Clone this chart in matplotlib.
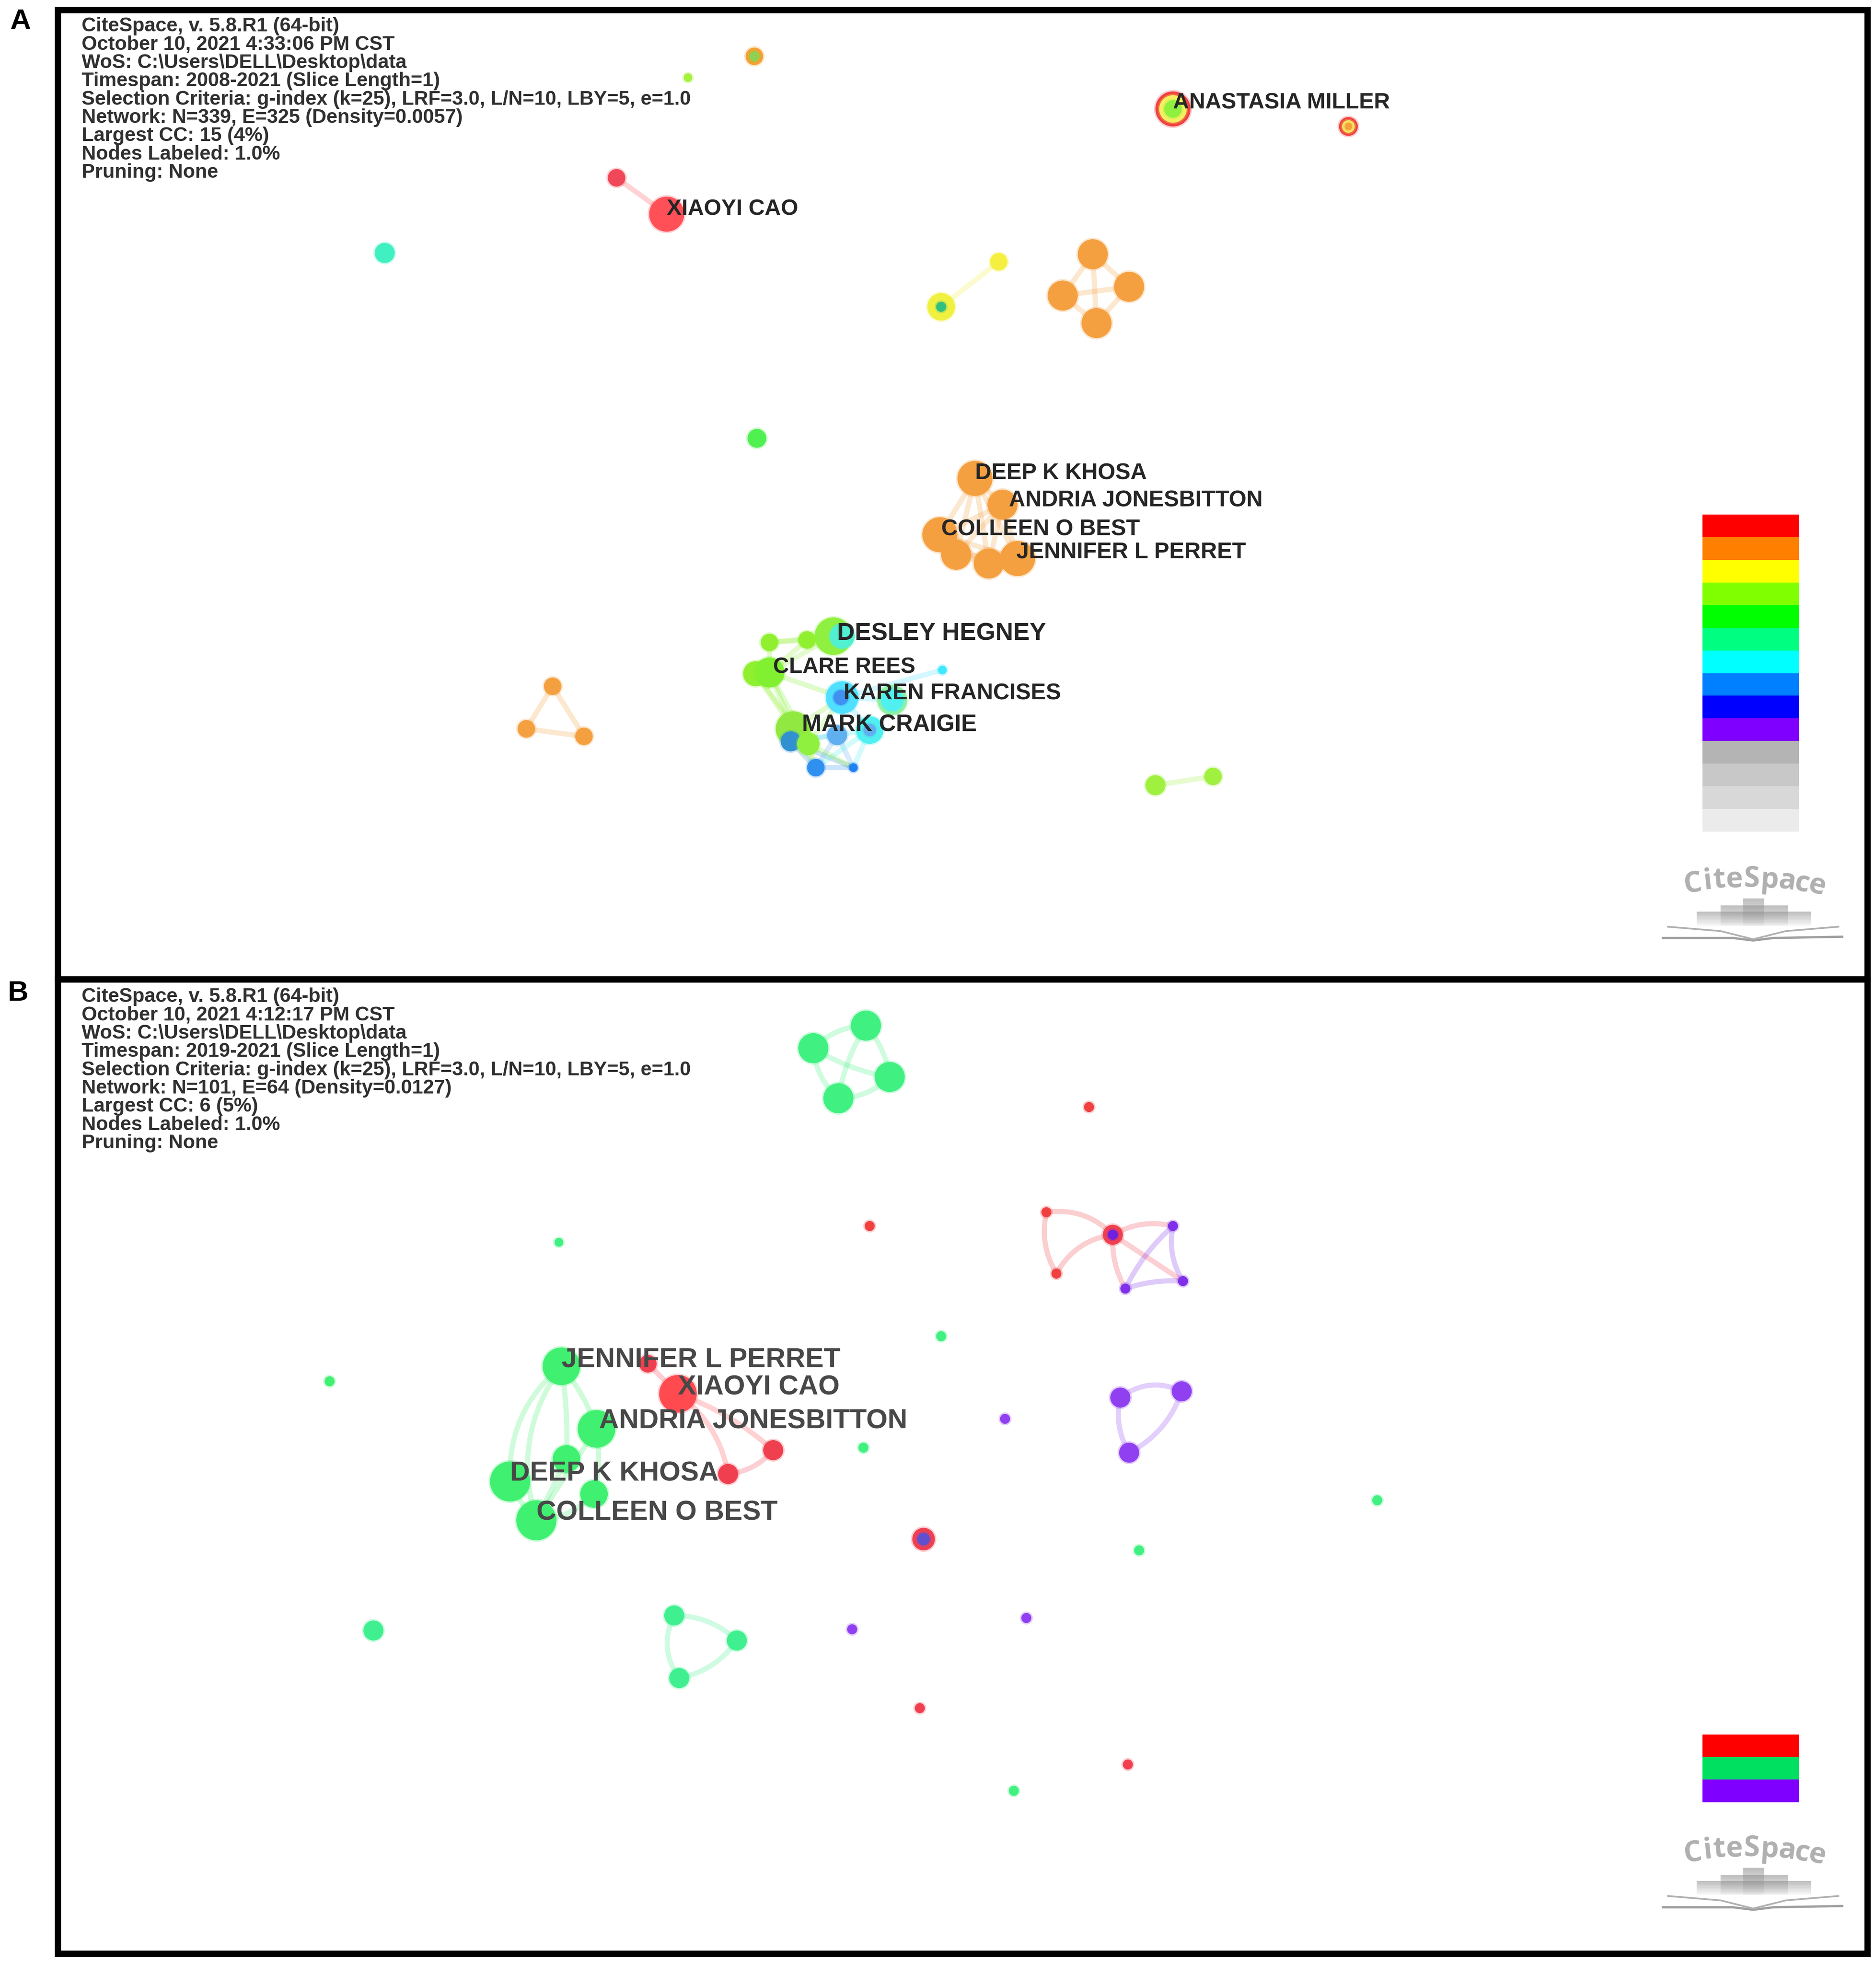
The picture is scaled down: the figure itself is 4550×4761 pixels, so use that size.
import matplotlib
matplotlib.use('Agg')
import matplotlib.pyplot as plt
from matplotlib.patches import Circle, Rectangle, FancyArrowPatch

plt.rcParams['font.family'] = ['Liberation Sans', 'DejaVu Sans']

# ---- header text of the two panels
info_a = ['CiteSpace, v. 5.8.R1 (64-bit)', 'October 10, 2021 4:33:06 PM CST',
          'WoS: C:\\Users\\DELL\\Desktop\\data', 'Timespan: 2008-2021 (Slice Length=1)',
          'Selection Criteria: g-index (k=25), LRF=3.0, L/N=10, LBY=5, e=1.0',
          'Network: N=339, E=325 (Density=0.0057)', 'Largest CC: 15 (4%)',
          'Nodes Labeled: 1.0%', 'Pruning: None']
info_b = ['CiteSpace, v. 5.8.R1 (64-bit)', 'October 10, 2021 4:12:17 PM CST',
          'WoS: C:\\Users\\DELL\\Desktop\\data', 'Timespan: 2019-2021 (Slice Length=1)',
          'Selection Criteria: g-index (k=25), LRF=3.0, L/N=10, LBY=5, e=1.0',
          'Network: N=101, E=64 (Density=0.0127)', 'Largest CC: 6 (5%)',
          'Nodes Labeled: 1.0%', 'Pruning: None']

# ---- panel A network
a_x = [602, 602, 549, 936, 936, 936, 1076, 1076, 1076, 532, 492, 307, 751, 751, 797,
       872, 848, 901, 875, 604, 778, 800, 750, 763, 789, 812,
       665, 672, 614, 644, 603, 614, 752, 672, 671, 712, 712,
       633, 631, 645, 668, 694, 694, 651, 681, 441, 420, 466, 922, 968]
a_y = [45, 45, 62, 87, 87, 87, 101, 101, 101, 171, 142, 202, 245, 245, 209,
       203, 236, 229, 258, 350, 382, 403, 427, 443, 450, 446,
       508, 508, 513, 511, 538, 537, 535, 557, 557, 559, 559,
       582, 592, 594, 587, 583, 583, 613, 613, 548, 582, 588, 627, 620]
a_r = [7, 4, 3.5, 14, 11, 7, 7.5, 5, 3, 14, 7, 8, 11, 4, 7,
       12, 12, 12, 12, 7.5, 14, 12, 14, 12, 12, 14,
       15, 10, 7, 7, 10, 12, 3.5, 13, 6, 12, 9,
       14, 8, 9, 8, 11, 5, 7, 3.5, 7, 7, 7, 8, 7]
a_c = ['#f5a030', '#90d050', '#a8f040', '#f04040', '#f5f060', '#90f040', '#f04040', '#f5f060', '#f5a040',
       '#ff5058', '#f04858', '#40f0c0', '#f0f040', '#30c080', '#f5f040',
       '#f5a040', '#f5a040', '#f5a040', '#f5a040', '#50f050',
       '#f5a040', '#f5a040', '#f5a040', '#f5a040', '#f5a040', '#f5a040',
       '#90f040', '#50f0d0', '#90f030', '#90f030', '#90f030', '#80f030', '#40e8ff',
       '#50e0ff', '#4090f0', '#90f0a0', '#50f0f0',
       '#90e840', '#3090d0', '#90f040', '#60b0f0', '#50f0f0', '#60b0f0', '#3090f0', '#2080f0',
       '#f5a040', '#f5a040', '#f5a040', '#a0f040', '#a0f040']
a_edges = [(9, 10), (12, 14), (15, 16), (15, 17), (15, 18), (16, 17), (16, 18), (17, 18),
           (20, 21), (20, 22), (20, 23), (20, 24), (20, 25), (21, 22), (21, 23), (21, 24), (21, 25),
           (22, 23), (22, 24), (22, 25), (23, 24), (23, 25), (24, 25),
           (28, 26), (29, 26), (28, 29), (28, 31), (29, 31), (26, 31), (31, 37), (30, 37), (31, 39),
           (31, 33), (37, 33), (39, 33), (30, 39),
           (33, 32), (33, 35), (33, 41), (38, 43), (38, 44), (40, 43), (40, 44), (41, 43), (41, 44),
           (43, 44), (39, 43), (39, 44), (37, 43), (40, 38), (41, 38),
           (45, 46), (45, 47), (46, 47), (48, 49)]
a_names = ['ANASTASIA MILLER', 'XIAOYI CAO', 'DEEP K KHOSA', 'ANDRIA JONESBITTON', 'COLLEEN O BEST',
           'JENNIFER L PERRET', 'DESLEY HEGNEY', 'CLARE REES', 'KAREN FRANCISES', 'MARK CRAIGIE']
a_name_x = [936, 532, 778, 805, 751, 811, 668, 617, 673, 640]
a_name_y = [82, 167, 378, 400, 423, 441, 506, 533, 554, 579]
a_name_size = [39, 39, 39.5, 39.5, 39.5, 39.5, 43, 38.5, 39.5, 41]

# ---- panel B network
b_x = [649, 691, 710, 669, 869, 694, 446, 835, 843, 888, 888, 936, 944, 898, 751, 263,
       448, 476, 452, 407, 474, 428, 517, 541, 617, 581, 894, 943, 901, 802, 689, 1099, 909,
       737, 737, 298, 538, 588, 542, 680, 819, 734, 900, 809]
b_y = [837, 819, 860, 877, 884, 979, 992, 968, 1017, 986, 986, 979, 1023, 1029, 1067, 1103,
       1091, 1141, 1165, 1183, 1193, 1214, 1089, 1113, 1158, 1177, 1116, 1111, 1160, 1133, 1156, 1198, 1238,
       1229, 1229, 1302, 1290, 1310, 1340, 1301, 1292, 1364, 1409, 1430]
b_r = [12, 12, 12, 12, 4, 4, 3.5, 4, 4, 8, 4, 4, 4, 4, 4, 4,
       15, 15, 11, 16, 11, 16, 7, 15, 8, 8, 8, 8, 8, 4, 4, 4, 4,
       9, 5, 8, 8, 8, 8, 4, 4, 4, 4, 4]
b_c = ['#40f080', '#40f080', '#40f080', '#40f080', '#f04040', '#f04040', '#40f080', '#f04040', '#f04040',
       '#f04050', '#7020e0', '#8030e8', '#8030e8', '#8030e8', '#40f080', '#40f070',
       '#40f070', '#40f070', '#40f070', '#40f070', '#40f070', '#40f070',
       '#f04050', '#ff4a50', '#f04050', '#f04050', '#9040f0', '#9040f0', '#9040f0', '#9040f0',
       '#40f080', '#40f080', '#40f080', '#f04050', '#6050d0', '#40f090', '#40f090', '#40f090', '#40f090',
       '#9040f0', '#9040f0', '#f04050', '#f04050', '#40f080']
b_edges = [(0, 1, -.2), (1, 2, -.15), (2, 3, -.2), (3, 0, -.2), (0, 2, .1), (1, 3, .1),
           (7, 9, -.25), (7, 8, .2), (8, 9, -.25),
           (9, 11, -.2), (9, 13, .15), (9, 12, 0), (11, 13, .1), (11, 12, .2), (13, 12, -.1),
           (16, 19, .25), (16, 21, .25), (16, 17, -.1), (16, 18, -.05), (17, 20, -.1), (17, 21, 0),
           (18, 21, 0), (19, 21, .1), (20, 21, -.2),
           (22, 23, 0), (23, 24, -.1), (23, 25, -.2), (24, 25, -.2),
           (26, 27, -.3), (26, 28, .2), (27, 28, -.2),
           (36, 37, -.2), (37, 38, -.2), (36, 38, .3)]
b_names = ['JENNIFER L PERRET', 'XIAOYI CAO', 'ANDRIA JONESBITTON', 'DEEP K KHOSA', 'COLLEEN O BEST']
b_name_x = [448, 541, 478, 407, 428]
b_name_y = [1086, 1108, 1135, 1177, 1208]

# ---- colour keys
key_a = ['#ff0000', '#ff8000', '#ffff00', '#80ff00', '#00ff00', '#00ff80', '#00ffff',
         '#0080ff', '#0000ff', '#8000ff', '#b4b4b4', '#c8c8c8', '#d8d8d8', '#ebebeb']
key_b = ['#ff0000', '#00e060', '#8000ff']

logo_letters = list('CiteSpace')
logo_x = [1351, 1363, 1372, 1384, 1398, 1412, 1426, 1438, 1450]
logo_y = [706, 704, 703, 703, 702, 703, 704, 706, 708]
logo_rot = [8, 6, 4, 2, 0, -4, -8, -11, -14]
logo_steps = [(1354, 1445, 728), (1373, 1427, 723), (1391, 1408, 717.5)]

fig = plt.figure(figsize=(45.5, 47.61), dpi=100)
ax = fig.add_axes([0, 0, 1, 1])
ax.set_xlim(0, 1497)
ax.set_ylim(1567.5, 0)
ax.axis('off')


def draw_net(x, y, r, c, edges):
    for e in edges:
        rad = e[2] if len(e) > 2 else 0
        ax.add_patch(FancyArrowPatch((x[e[0]], y[e[0]]), (x[e[1]], y[e[1]]), arrowstyle='-',
                                     connectionstyle='arc3,rad=%s' % rad, shrinkA=0, shrinkB=0,
                                     color=c[e[0]], alpha=0.25, lw=9, zorder=1))
    for i in range(len(x)):
        ax.add_patch(Circle((x[i], y[i]), r[i] + 1.2, fc=c[i], ec='none', alpha=0.25, zorder=2))
        ax.add_patch(Circle((x[i], y[i]), r[i], fc=c[i], ec='none', zorder=2))


def draw_logo(dy):
    for ch, lx, ly, rot in zip(logo_letters, logo_x, logo_y, logo_rot):
        ax.text(lx, ly + dy, ch, fontsize=50, family='Open Sans', weight='bold', color='#b0b0b0',
                ha='center', va='center', rotation=rot)
    # the little steps fade out towards the book
    for x0, x1, top in logo_steps:
        n = 10
        h = (739 - top) / n
        for k in range(n):
            ax.add_patch(Rectangle((x0, top + dy + k * h), x1 - x0, h, fc='#8c8c8c', ec='none',
                                   alpha=0.5 * (1 - k / n) + 0.04))
    ax.plot([1327, 1383, 1399, 1415, 1470], [749 + dy, 749 + dy, 751 + dy, 749 + dy, 748 + dy],
            color='#a0a0a0', lw=4)
    ax.plot([1331, 1373, 1399, 1425, 1467], [740 + dy, 743.5 + dy, 750 + dy, 743.5 + dy, 740 + dy],
            color='#b0b0b0', lw=3)


def draw_key(colors, top, step):
    for i, col in enumerate(colors):
        ax.add_patch(Rectangle((1358.5, top + i * step), 77, step, fc=col, ec='none'))


draw_net(a_x, a_y, a_r, a_c, a_edges)
draw_net(b_x, b_y, b_r, b_c, b_edges)

for lines, top in [(info_a, 21), (info_b, 796)]:
    for i, line in enumerate(lines):
        ax.text(65, top + i * 14.6, line, fontsize=34.7, weight='bold', color='#303030', va='center')

for name, x, y, fs in zip(a_names, a_name_x, a_name_y, a_name_size):
    ax.text(x, y, name, fontsize=fs, weight='bold', color='#262626', va='center', zorder=5)
for name, x, y in zip(b_names, b_name_x, b_name_y):
    ax.text(x, y, name, fontsize=48, weight='bold', color='#484848', va='center', zorder=5)

draw_key(key_a, 411, 18.07)
draw_key(key_b, 1385, 18)
draw_logo(0)
draw_logo(774)

# panel frames
ax.add_patch(Rectangle((46, 8), 1444, 774, fc='none', ec='black', lw=11, zorder=6))
ax.add_patch(Rectangle((46, 782), 1444, 778, fc='none', ec='black', lw=11, zorder=6))
ax.text(8, 17, 'A', fontsize=50, weight='bold', color='black', va='center')
ax.text(6, 793, 'B', fontsize=50, weight='bold', color='black', va='center')

fig.savefig('out.png', dpi=100, facecolor='white')
